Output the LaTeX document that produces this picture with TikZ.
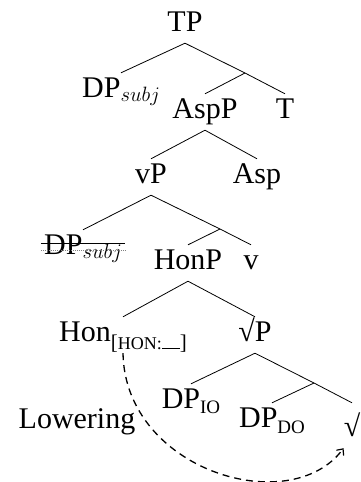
\documentclass[tikz,border=0pt]{standalone}
\usepackage[no-math]{fontspec}
\setmainfont{Liberation Serif}
\usetikzlibrary{arrows.meta,calc}
\newcommand{\subjtag}{\raisebox{-4pt}{\fontsize{21}{25}\selectfont$subj$}}
\begin{document}
\begin{tikzpicture}[x=1pt,y=-1pt,
  every node/.style={font=\fontsize{30}{36}\selectfont},
  tn/.style={inner xsep=0pt, inner ysep=4pt, text height=20pt, text depth=8pt, anchor=base},
  branch/.style={line width=0.8pt},
  lower/.style={line width=1.3pt, dash pattern=on 7pt off 5pt, -{Straight Barb[length=5pt,width=9pt,line width=1.2pt]}}]
\useasboundingbox (0,0) rectangle (361,482);
% nodes
\node[tn] (tp) at (185,31) {TP};
\node[tn] (dps) at (121,97) {DP\subjtag};
\coordinate (tb) at (245,73);
\node[tn] (aspp) at (205,118) {AspP};
\node[tn] (t) at (285,118) {T};
\node[tn] (vp) at (151,183) {vP};
\node[tn] (asp) at (257,183) {Asp};
\coordinate (vb) at (220,229);
\node[tn] (dpt) at (83,254) {DP\subjtag};
\node[tn] (honp) at (188,269) {HonP};
\node[tn] (v) at (251,269) {v};
\node[tn] (hon) at (123,341) {Hon\raisebox{-8pt}{\fontsize{21}{24}\selectfont[{\fontsize{18}{21}\selectfont HON:}\rule{18pt}{0.8pt}]}};
\node[tn] (rp) at (255,341) {√P};
\coordinate (rb) at (314,383);
\node[tn] (io) at (191,408) {DP\raisebox{-5pt}{\fontsize{19}{22}\selectfont IO}};
\node[tn] (do) at (272,427) {DP\raisebox{-6pt}{\fontsize{19}{22}\selectfont DO}};
\node[tn, text height=29pt] (r) at (352,436) {√};
\node[tn] (low) at (77,428) {Lowering};
% branches
\draw[branch] (tp.south) -- (dps.north);
\draw[branch] (tp.south) -- (tb) -- (t.north);
\draw[branch] (tb) -- (aspp.north);
\draw[branch] (aspp.south) -- (vp.north);
\draw[branch] (aspp.south) -- (asp.north);
\draw[branch] (vp.south) -- (dpt.north);
\draw[branch] (vp.south) -- (vb) -- (v.north);
\draw[branch] (vb) -- (honp.north);
\draw[branch] (honp.south) -- (hon.north);
\draw[branch] (honp.south) -- (rp.north);
\draw[branch] (rp.south) -- (io.north);
\draw[branch] (rp.south) -- (rb) -- (r.north);
\draw[branch] (rb) -- (do.north);
% strike-through
\draw[line width=0.9pt] ($(dpt.base west)+(-3,-10.5)$) -- ($(dpt.base east)+(3,-10.5)$);
\draw[line width=0.6pt, gray, dash pattern=on 1pt off 1pt] ($(dpt.base west)+(-3,-4)$) -- ($(dpt.base east)+(3,-4)$);
% lowering arrow
\draw[lower] (hon.south) .. controls (125,470) and (290,520) .. (r.south west);
\end{tikzpicture}
\end{document}
